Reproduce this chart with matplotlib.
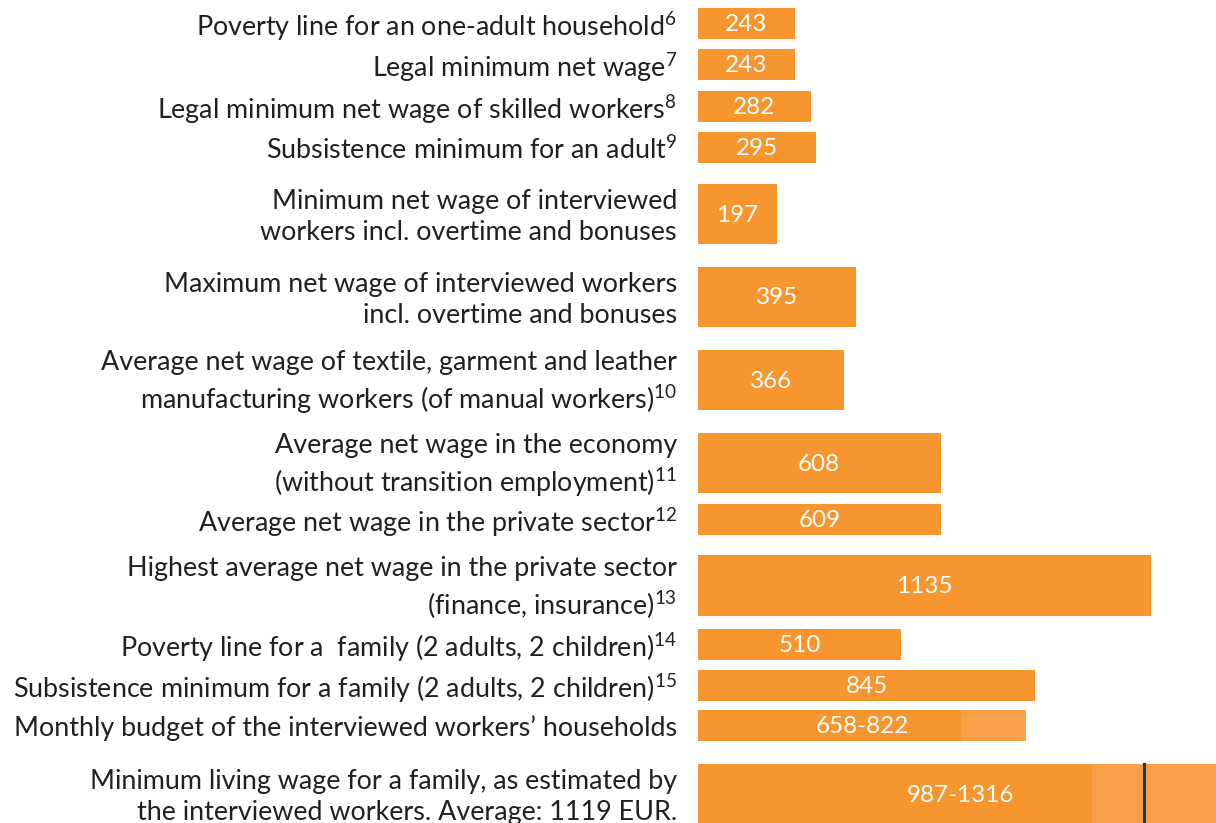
import numpy as np
import matplotlib
matplotlib.use("Agg")
from matplotlib import pyplot as plt

plt.rcParams['font.family'] = ['Lato', 'DejaVu Sans']
plt.rcParams['mathtext.fontset'] = 'custom'
plt.rcParams['mathtext.rm'] = 'Lato'
plt.rcParams['mathtext.it'] = 'Lato'

labels = [
    "Poverty line for an one-adult household$^{6}$",
    "Legal minimum net wage$^{7}$",
    "Legal minimum net wage of skilled workers$^{8}$",
    "Subsistence minimum for an adult$^{9}$",
    "Minimum net wage of interviewed\nworkers incl. overtime and bonuses",
    "Maximum net wage of interviewed workers\nincl. overtime and bonuses",
    "Average net wage of textile, garment and leather\nmanufacturing workers (of manual workers)$^{10}$",
    "Average net wage in the economy\n(without transition employment)$^{11}$",
    "Average net wage in the private sector$^{12}$",
    "Highest average net wage in the private sector\n(finance, insurance)$^{13}$",
    "Poverty line for a  family (2 adults, 2 children)$^{14}$",
    "Subsistence minimum for a family (2 adults, 2 children)$^{15}$",
    "Monthly budget of the interviewed workers\u2019 households",
    "Minimum living wage for a family, as estimated by\nthe interviewed workers. Average: 1119 EUR.",
]
low = [243, 243, 282, 295, 197, 395, 366, 608, 609, 1135, 510, 845, 658, 987]
high = [243, 243, 282, 295, 197, 395, 366, 608, 609, 1135, 510, 845, 822, 1316]
value_text = ["243", "243", "282", "295", "197", "395", "366", "608", "609", "1135",
              "510", "845", "658-822", "987-1316"]
average_family = 1119

# layout in pixels (y centres and bar heights)
y_pos = [23.5, 64.5, 106.5, 147.5, 214, 297, 380, 463, 519.5, 585.5, 644.5, 685.5, 725.5, 794]
bar_h = [31, 31, 31, 31, 60, 60, 60, 60, 31, 61, 31, 31, 31, 60]

orange = "#f7952f"
light = "#f8a148"
navy = "#1d3557"

W, H = 1216, 823
scale = 0.399  # px per EUR
x0 = 698

fig = plt.figure(figsize=(W / 100, H / 100), dpi=100)
ax = fig.add_axes([0, 0, 1, 1])
ax.set_xlim(-x0 / scale, (W - x0) / scale)
ax.set_ylim(H, 0)
ax.axis("off")

ax.barh(y_pos, low, height=bar_h, left=0, color=orange, linewidth=0)
extra = [h - l for h, l in zip(high, low)]
ax.barh(y_pos, extra, height=bar_h, left=low, color=light, linewidth=0)

# average line in the last bar
ax.plot([average_family, average_family],
        [y_pos[-1] - bar_h[-1] / 2, y_pos[-1] + bar_h[-1] / 2],
        color=navy, lw=2.2)

for i in range(len(labels)):
    ax.text(-21 / scale, y_pos[i] + 3, labels[i], ha="right", va="center",
            fontsize=19.4, color="#231f20", linespacing=1.32)
    ax.text(high[i] / 2, y_pos[i] + 1, value_text[i], ha="center", va="center",
            fontsize=17.5, color="white")

fig.savefig("out.png", dpi=100)
